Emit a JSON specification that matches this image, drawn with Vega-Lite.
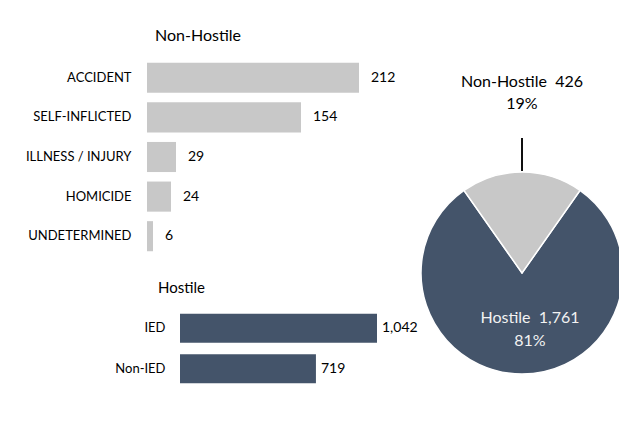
{
  "$schema": "https://vega.github.io/schema/vega-lite/v6.json",
  "background": "white",
  "padding": {"left": 25, "top": 28, "right": -4, "bottom": 0},
  "config": {"view": {"stroke": null}, "font": "Lato", "text": {"font": "Lato"}},
  "datasets": {
    "nonhostile": [
      {"cause": "ACCIDENT", "n": 212},
      {"cause": "SELF-INFLICTED", "n": 154},
      {"cause": "ILLNESS / INJURY", "n": 29},
      {"cause": "HOMICIDE", "n": 24},
      {"cause": "UNDETERMINED", "n": 6}
    ],
    "hostile": [
      {"cause": "IED", "n": 1042},
      {"cause": "Non-IED", "n": 719}
    ],
    "total": [
      {"cat": "Hostile", "n": 1761},
      {"cat": "Non-Hostile", "n": 426}
    ]
  },
  "bounds": "flush",
  "spacing": 274,
  "hconcat": [
    {
      "bounds": "flush",
      "spacing": 52,
      "vconcat": [
        {
          "title": {"text": "Non-Hostile", "anchor": "start", "frame": "group", "dx": 8, "fontSize": 16, "fontWeight": "normal", "font": "Lato", "color": "#000", "offset": 14},
          "width": 212,
          "height": 198,
          "data": {"name": "nonhostile"},
          "encoding": {
            "y": {"field": "cause", "type": "nominal", "sort": null,
                  "scale": {"paddingInner": 0.24, "paddingOuter": 0.12},
                  "axis": {"title": null, "ticks": false, "domain": false, "labelPadding": 16, "labelFontSize": 13, "labelColor": "#000", "labelFont": "Lato"}},
            "x": {"field": "n", "type": "quantitative", "scale": {"domain": [0, 212]}, "axis": null}
          },
          "layer": [
            {"mark": {"type": "bar", "color": "#C8C8C8"}},
            {"mark": {"type": "text", "align": "left", "dx": 12, "fontSize": 14, "color": "#000"},
             "encoding": {"text": {"field": "n", "type": "quantitative"}}}
          ]
        },
        {
          "title": {"text": "Hostile", "anchor": "start", "frame": "group", "dx": 11, "fontSize": 15, "fontWeight": "normal", "font": "Lato", "color": "#000", "offset": 12},
          "width": 230,
          "height": 81,
          "data": {"name": "hostile"},
          "encoding": {
            "y": {"field": "cause", "type": "nominal", "sort": null,
                  "scale": {"paddingInner": 0.28, "paddingOuter": 0.14},
                  "axis": {"title": null, "ticks": false, "domain": false, "offset": -33, "labelPadding": 15, "labelFontSize": 13, "labelColor": "#000", "labelFont": "Lato"}},
            "x": {"field": "n", "type": "quantitative", "scale": {"domain": [0, 1042], "range": [33, 230]}, "axis": null}
          },
          "layer": [
            {"mark": {"type": "bar", "color": "#44546A"}},
            {"mark": {"type": "text", "align": "left", "dx": 5, "fontSize": 14, "color": "#000"},
             "encoding": {"text": {"field": "n", "type": "quantitative", "format": ","}}}
          ]
        }
      ]
    },
    {
      "width": 202,
      "height": 430,
      "data": {"name": "total"},
      "transform": [
        {"joinaggregate": [{"op": "sum", "field": "n", "as": "total"}]},
        {"calculate": "datum.cat + '\u00a0\u00a0' + format(datum.n, ',') + '\\n' + format(datum.n / datum.total, '.0%')", "as": "label"}
      ],
      "encoding": {
        "theta": {"field": "n", "type": "quantitative", "stack": true, "scale": {"range": [-0.612, 5.6712]}},
        "order": {"field": "n", "sort": "ascending"}
      },
      "layer": [
        {"mark": {"type": "arc", "stroke": "#ffffff", "strokeWidth": 1.5},
         "encoding": {"color": {"field": "cat", "type": "nominal", "scale": {"domain": ["Hostile", "Non-Hostile"], "range": ["#44546A", "#C8C8C8"]}, "legend": null}}},
        {"mark": {"type": "arc", "radius": 135, "radius2": 102, "stroke": "#000", "strokeWidth": 1, "fill": null},
         "encoding": {"theta": {"datum": 0, "scale": null}, "theta2": {"datum": 0}}},
        {"mark": {"type": "text", "radius": 191, "fontSize": 16, "lineBreak": "\n", "lineHeight": 22, "color": "#000"},
         "encoding": {"text": {"condition": {"test": "datum.cat === 'Non-Hostile'", "field": "label"}, "value": ""}}},
        {"mark": {"type": "text", "radius": 45, "dx": 8, "fontSize": 16, "lineBreak": "\n", "lineHeight": 23, "color": "#F2F2F2"},
         "encoding": {"text": {"condition": {"test": "datum.cat === 'Hostile'", "field": "label"}, "value": ""}}}
      ]
    }
  ]
}
